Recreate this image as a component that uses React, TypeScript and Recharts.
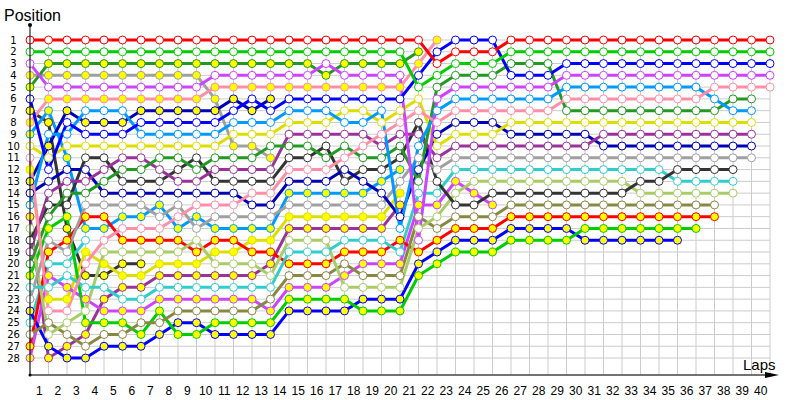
import { CartesianGrid, Line, LineChart, XAxis, YAxis } from 'recharts';

// Lap chart: position of every car at the end of each lap (lap 0 = grid).
const n = null;

const LAPS = [
  0, 1, 2, 3, 4, 5, 6, 7, 8, 9, 10, 11, 12, 13, 14, 15, 16, 17, 18, 19, 20,
  21, 22, 23, 24, 25, 26, 27, 28, 29, 30, 31, 32, 33, 34, 35, 36, 37, 38, 39, 40,
];
const POSITIONS = [
  1, 2, 3, 4, 5, 6, 7, 8, 9, 10, 11, 12, 13, 14, 15, 16, 17, 18, 19, 20, 21, 22, 23, 24, 25, 26, 27, 28,
];

// white-marker cars
const redW = [1,1,1,1,1,1,1,1,1,1, 1,1,1,1,1,1,1,1,1,1, 1,1,3,2,2,2,1,1,1,1, 1,1,1,1,1,1,1,1,1,1, 1];
const limeW = [2,2,2,2,2,2,2,2,2,2, 2,2,2,2,2,2,2,2,2,2, 2,5,4,3,3,3,2,2,2,2, 2,2,2,2,2,2,2,2,2,2, 2];
const blueW = [6,12,8,9,9,9,8,8,8,8, 8,7,6,7,6,6,6,6,6,6, 6,4,2,1,1,1,4,4,4,3, 3,3,3,3,3,3,3,3,3,3, 3];
const violetW = [3,5,5,5,5,5,5,5,5,5, 4,4,4,4,4,4,3,4,4,4, 4,18,6,5,5,5,5,5,5,4, 4,4,4,4,4,4,4,4,4,4, 4];
const pinkW = [11,24,24,20,18,17,17,17,16,15, 15,15,14,14,12,12,12,11,10,9, 8,7,8,7,7,7,7,7,7,6, 6,6,6,6,6,6,6,5,5,5, 5];
const skyW = [15,9,9,7,7,7,9,9,9,9, 9,8,8,8,7,7,7,8,8,7, 17,10,7,6,6,6,6,6,6,5, 5,5,5,5,5,5,5,6,7,7, n];
const dkgreenW = [20,16,14,14,13,12,12,11,11,12, 11,11,11,10,10,10,11,10,11,11, 10,13,5,4,4,4,3,3,3,7, 7,7,7,7,7,7,7,7,6,6, n];
const yellowW = [10,11,10,10,10,10,10,10,10,10, 10,9,9,9,8,8,8,7,7,8, 7,6,10,9,9,9,8,8,8,8, 8,8,8,8,8,8,8,8,8,8, n];
const purpleW = [19,14,13,13,12,11,11,12,13,13, 12,12,12,12,9,9,9,9,9,10, 9,9,11,10,10,10,10,10,10,10, 10,9,9,9,9,9,9,9,9,9, n];
const navyW = [14,13,12,12,14,14,14,14,14,14, 14,14,15,15,13,13,13,12,13,14, 16,12,9,8,8,8,9,9,9,9, 9,10,10,10,10,10,10,10,10,10, n];
const grayW = [23,18,19,15,15,15,15,16,15,17, 16,16,16,16,15,15,15,15,15,15, 13,11,12,11,11,11,11,11,11,11, 11,11,11,11,11,11,11,11,11,11, n];
const blackW = [18,15,15,11,11,13,13,13,12,11, 13,13,13,13,11,11,10,13,12,12, 11,8,13,15,15,14,14,14,14,14, 14,14,14,13,13,12,12,12,12,n, n];
const cyanW = [22,22,21,22,22,23,23,22,22,22, 22,22,22,22,19,19,19,18,18,18, 19,14,14,12,12,12,12,12,12,12, 12,12,12,12,12,13,13,13,13,n, n];
const lgreenW = [17,26,25,24,19,19,19,19,19,18, 20,20,20,21,18,18,18,22,22,22, 22,17,16,14,13,13,13,13,13,13, 13,13,13,14,14,14,14,14,14,n, n];
const oliveW = [26,25,26,27,26,26,25,25,24,24, 24,24,24,23,21,21,21,20,21,21, 21,16,17,16,16,16,15,15,15,15, 15,15,15,15,15,15,15,15,n,n, n];
const cyan2W = [25,20,20,18,n,n,n,n,n,n, n,n,n,n,n,n,n,n,n,n, n,n,n,n,n,n,n,n,n,n, n,n,n,n,n,n,n,n,n,n, n];

// yellow-marker cars
const redY = [27,19,18,16,16,18,18,18,18,19, 18,18,19,19,20,20,20,19,19,19, 18,19,18,17,17,17,16,16,16,16, 16,16,16,16,16,16,16,16,n,n, n];
const limeY = [21,17,16,25,25,25,26,24,26,26, 25,25,25,25,23,23,23,23,24,24, 24,21,20,19,19,19,18,18,18,18, 17,17,17,17,17,17,17,n,n,n, n];
const blueY = [24,27,28,28,27,27,27,26,25,25, 26,26,26,26,24,24,24,24,23,23, 23,20,19,18,18,18,17,17,17,17, 18,18,18,18,18,18,n,n,n,n, n];
const violetY = [28,21,22,23,24,24,24,23,23,23, 23,23,23,24,22,22,22,21,20,20, 20,15,15,13,14,15,n,n,n,n, n,n,n,n,n,n,n,n,n,n, n];
const purpleY = [16,28,27,26,23,22,22,21,21,21, 21,21,21,20,17,17,17,17,17,17, 15,n,n,n,n,n,n,n,n,n, n,n,n,n,n,n,n,n,n,n, n];
const yellowY = [12,23,23,19,20,21,21,20,20,20, 19,19,18,18,16,16,16,16,16,16, 14,n,n,n,n,n,n,n,n,n, n,n,n,n,n,n,n,n,n,n, n];
const skyY = [9,7,11,17,17,16,16,15,17,16, 17,17,17,17,14,14,14,14,14,13, 12,n,n,n,n,n,n,n,n,n, n,n,n,n,n,n,n,n,n,n, n];
const pinkY = [8,6,6,6,6,6,6,6,6,6, 5,5,5,5,5,5,5,5,5,5, 5,3,1,n,n,n,n,n,n,n, n,n,n,n,n,n,n,n,n,n, n];
const dkgreenY = [5,3,3,3,3,3,3,3,3,3, 3,3,3,3,3,3,4,3,3,3, 3,2,n,n,n,n,n,n,n,n, n,n,n,n,n,n,n,n,n,n, n];
const grayY = [4,4,4,4,4,4,4,4,4,4, 6,10,10,11,n,n,n,n,n,n, n,n,n,n,n,n,n,n,n,n, n,n,n,n,n,n,n,n,n,n, n];
const navyY = [13,10,7,8,8,8,7,7,7,7, 7,6,7,6,n,n,n,n,n,n, n,n,n,n,n,n,n,n,n,n, n,n,n,n,n,n,n,n,n,n, n];
const blackY = [7,8,17,21,21,20,20,n,n,n, n,n,n,n,n,n,n,n,n,n, n,n,n,n,n,n,n,n,n,n, n,n,n,n,n,n,n,n,n,n, n];

const WHITE = '#ffffff';
const YELLOW = '#ffff00';

const RED = '#ff0000';
const LIME = '#00cc00';
const BLUE = '#0000ff';
const VIOLET = '#cc44ff';
const PINK = '#ff8fa8';
const SKY = '#0099ff';
const DKGREEN = '#229922';
const YELLOWLINE = '#dddd00';
const PURPLE = '#993399';
const NAVY = '#0000b4';
const GRAY = '#a0a0a0';
const BLACK = '#333333';
const CYAN = '#33cccc';
const LGREEN = '#aacc66';
const OLIVE = '#888844';

// drawn back to front
const CARS = [
  { key: 'blackY', color: BLACK, fill: YELLOW, pos: blackY },
  { key: 'cyan2W', color: CYAN, fill: WHITE, pos: cyan2W },
  { key: 'skyY', color: SKY, fill: YELLOW, pos: skyY },
  { key: 'yellowY', color: YELLOWLINE, fill: YELLOW, pos: yellowY },
  { key: 'grayY', color: GRAY, fill: YELLOW, pos: grayY },
  { key: 'navyY', color: NAVY, fill: YELLOW, pos: navyY },
  { key: 'purpleY', color: PURPLE, fill: YELLOW, pos: purpleY },
  { key: 'violetY', color: VIOLET, fill: YELLOW, pos: violetY },
  { key: 'dkgreenY', color: DKGREEN, fill: YELLOW, pos: dkgreenY },
  { key: 'pinkY', color: PINK, fill: YELLOW, pos: pinkY },
  { key: 'blueY', color: BLUE, fill: YELLOW, pos: blueY },
  { key: 'limeY', color: LIME, fill: YELLOW, pos: limeY },
  { key: 'redY', color: RED, fill: YELLOW, pos: redY },
  { key: 'oliveW', color: OLIVE, fill: WHITE, pos: oliveW },
  { key: 'lgreenW', color: LGREEN, fill: WHITE, pos: lgreenW },
  { key: 'cyanW', color: CYAN, fill: WHITE, pos: cyanW },
  { key: 'blackW', color: BLACK, fill: WHITE, pos: blackW },
  { key: 'grayW', color: GRAY, fill: WHITE, pos: grayW },
  { key: 'navyW', color: NAVY, fill: WHITE, pos: navyW },
  { key: 'purpleW', color: PURPLE, fill: WHITE, pos: purpleW },
  { key: 'yellowW', color: YELLOWLINE, fill: WHITE, pos: yellowW },
  { key: 'dkgreenW', color: DKGREEN, fill: WHITE, pos: dkgreenW },
  { key: 'skyW', color: SKY, fill: WHITE, pos: skyW },
  { key: 'pinkW', color: PINK, fill: WHITE, pos: pinkW },
  { key: 'violetW', color: VIOLET, fill: WHITE, pos: violetW },
  { key: 'blueW', color: BLUE, fill: WHITE, pos: blueW },
  { key: 'limeW', color: LIME, fill: WHITE, pos: limeW },
  { key: 'redW', color: RED, fill: WHITE, pos: redW },
];

const data = LAPS.map((lap, i) => {
  const row: Record<string, number | null> = { lap };
  CARS.forEach((c) => {
    row[c.key] = c.pos[i] ?? null;
  });
  return row;
});

const GRID = '#cccccc';
const FONT = '"Liberation Sans", Arial, sans-serif';
const TICK_FONT = '"DejaVu Sans", Verdana, sans-serif';

const LapTick = ({ x, y, payload }: any) => {
  if (payload.value === 0) return null;
  // lap numbers sit in the middle of the lap cell
  return (
    <text x={x - 9.25} y={y + 12} textAnchor="middle" fontFamily={FONT} fontSize={12} fill="#000">
      {payload.value}
    </text>
  );
};

const LeftTick = ({ y, payload }: any) => (
  <text x={13.5} y={y + 3.5} textAnchor="middle" fontFamily={TICK_FONT} fontSize={10} fill="#000">
    {payload.value}
  </text>
);

const RightTick = ({ x, y, payload }: any) => (
  <text x={x} y={y + 3.5} textAnchor="start" fontFamily={TICK_FONT} fontSize={10} fill="#000">
    {payload.value}
  </text>
);

export default function App() {
  return (
    <div style={{ position: 'absolute', left: 0, top: 0, width: 800, height: 400, background: '#fff' }}>
      <LineChart width={800} height={400} data={data} margin={{ top: 40, right: 0, bottom: 0, left: 0 }}>
        <CartesianGrid stroke={GRID} yAxisId="left" />
        <XAxis
          dataKey="lap"
          type="number"
          domain={[0, 40]}
          ticks={LAPS}
          interval={0}
          height={25}
          axisLine={false}
          tickLine={false}
          tick={<LapTick />}
        />
        <YAxis
          yAxisId="left"
          type="number"
          domain={[1, 29.44]}
          reversed
          ticks={POSITIONS}
          interval={0}
          width={30}
          axisLine={false}
          tickLine={false}
          tick={<LeftTick />}
        />
        <YAxis
          yAxisId="right"
          orientation="right"
          type="number"
          domain={[1, 29.44]}
          reversed
          ticks={POSITIONS}
          interval={0}
          width={30}
          axisLine={false}
          tickLine={false}
          tickSize={0}
          tickMargin={7}
          tick={<RightTick />}
        />
        {CARS.map((c) => (
          <Line
            key={c.key}
            yAxisId="left"
            dataKey={c.key}
            stroke={c.color}
            strokeWidth={3}
            dot={{ r: 4, fill: c.fill, stroke: c.color, strokeWidth: 1 }}
            activeDot={false}
            isAnimationActive={false}
          />
        ))}
      </LineChart>
      <svg width={800} height={400} style={{ position: 'absolute', left: 0, top: 0, pointerEvents: 'none' }}>
        <line x1={30} y1={25} x2={30} y2={375} stroke="#000" strokeWidth={1} />
        <circle cx={30} cy={25} r={2} fill="#000" />
        <circle cx={30} cy={375} r={1.5} fill="#000" />
        <line x1={30} y1={375} x2={770} y2={375} stroke="#000" strokeWidth={1} />
        <polygon points="765,372 779,375 765,378" fill="#000" />
        <text x={4} y={21} fontFamily={FONT} fontSize={16} fill="#000">Position</text>
        <text x={743} y={370} fontFamily={FONT} fontSize={15} fill="#000">Laps</text>
      </svg>
    </div>
  );
}
